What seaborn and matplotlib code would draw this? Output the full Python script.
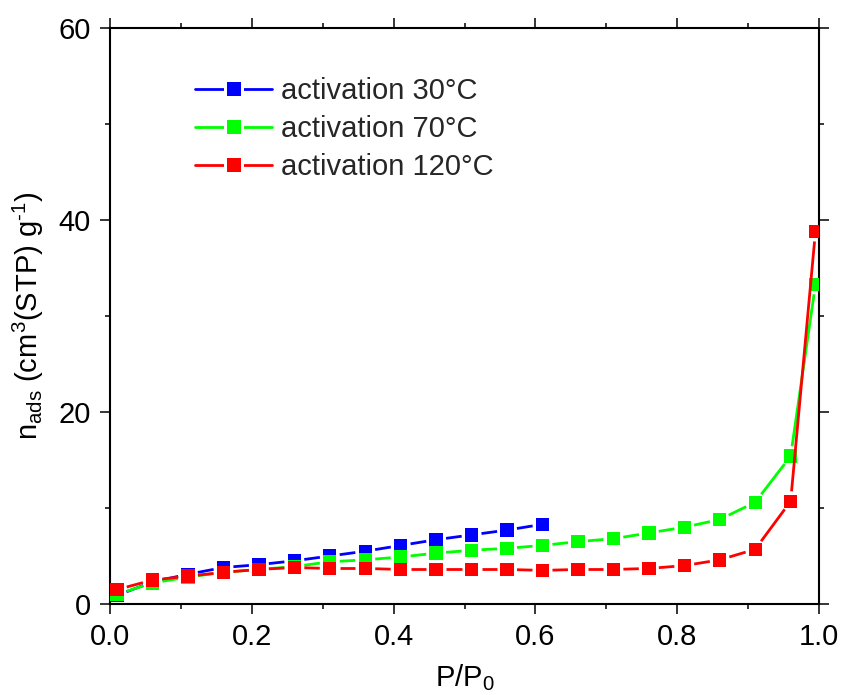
import numpy as np
import pandas as pd
import matplotlib
matplotlib.use("Agg")
import matplotlib.pyplot as plt
from matplotlib.lines import Line2D
from matplotlib.legend_handler import HandlerTuple
import seaborn as sns

# ---- data ----
x_30 = [0.01, 0.06, 0.11, 0.16, 0.21, 0.26, 0.31, 0.36, 0.41, 0.46, 0.51, 0.56, 0.61]
y_30 = [0.9, 2.3, 3.1, 3.8, 4.1, 4.5, 5.0, 5.5, 6.1, 6.7, 7.2, 7.7, 8.3]

x_70 = [0.01, 0.06, 0.11, 0.16, 0.21, 0.26, 0.31, 0.36, 0.41, 0.46, 0.51, 0.56, 0.61,
        0.66, 0.71, 0.76, 0.81, 0.86, 0.91, 0.96, 0.995]
y_70 = [1.0, 2.2, 2.8, 3.3, 3.6, 3.9, 4.4, 4.6, 4.9, 5.3, 5.6, 5.8, 6.1,
        6.5, 6.8, 7.4, 8.0, 8.8, 10.6, 15.4, 33.3]

x_120 = [0.01, 0.06, 0.11, 0.16, 0.21, 0.26, 0.31, 0.36, 0.41, 0.46, 0.51, 0.56, 0.61,
         0.66, 0.71, 0.76, 0.81, 0.86, 0.91, 0.96, 0.995]
y_120 = [1.5, 2.5, 2.9, 3.3, 3.6, 3.8, 3.7, 3.7, 3.6, 3.6, 3.6, 3.6, 3.5,
         3.6, 3.6, 3.7, 4.0, 4.6, 5.7, 10.7, 38.8]

labels = ["activation 30°C", "activation 70°C", "activation 120°C"]
colors = ["#0000FF", "#00FF00", "#FF0000"]

x_ticks = [0.0, 0.2, 0.4, 0.6, 0.8, 1.0]
y_ticks = [0, 20, 40, 60]

series = [(x_30, y_30), (x_70, y_70), (x_120, y_120)]
frames = []
for lab, (xs, ys) in zip(labels, series):
    frames.append(pd.DataFrame({"P/P0": xs, "n_ads": ys, "sample": lab}))
df = pd.concat(frames, ignore_index=True)

# ---- style ----
sns.set_theme(style="ticks")
plt.rcParams['font.family'] = ['Liberation Sans', 'DejaVu Sans']
plt.rcParams['mathtext.default'] = 'regular'
plt.rcParams['mathtext.fontset'] = 'custom'
plt.rcParams['mathtext.rm'] = 'Liberation Sans'
plt.rcParams['mathtext.it'] = 'Liberation Sans'

W, H = 844, 695
fig = plt.figure(figsize=(W / 100, H / 100), dpi=100)
L, R, T, B = 110, 819, 28, 604
ax = fig.add_axes([L / W, 1 - B / H, (R - L) / W, (B - T) / H])

ax.set_xlim(0, 1.0)
ax.set_ylim(0, 60)

fs = 21
ms = 9.6
lw = 2.0
gap = 10  # px gap around symbols

for i, (lab, col) in enumerate(zip(labels, colors)):
    sub = df[df["sample"] == lab]
    # gapped connecting line (Origin style)
    pts = ax.transData.transform(np.column_stack([sub["P/P0"].values, sub["n_ads"].values]))
    inv = ax.transData.inverted()
    for p0, p1 in zip(pts[:-1], pts[1:]):
        d = p1 - p0
        Ld = np.hypot(*d)
        if Ld <= 2 * gap:
            continue
        u = d / Ld
        a = inv.transform(p0 + u * gap)
        b = inv.transform(p1 - u * gap)
        ax.plot([a[0], b[0]], [a[1], b[1]], color=col, lw=lw,
                solid_capstyle='butt', zorder=2 + 2 * i)
    sns.scatterplot(data=sub, x="P/P0", y="n_ads", ax=ax, color=col, marker='s',
                    s=ms ** 2, edgecolor='none', linewidth=0, zorder=3 + 2 * i,
                    legend=False)

ax.set_xticks(x_ticks)
ax.set_yticks(y_ticks)
ax.set_xticks(np.arange(0.1, 1.0, 0.2), minor=True)
ax.set_yticks([10, 30, 50], minor=True)
ax.set_xticklabels([f"{v:.1f}" for v in x_ticks])
ax.set_yticklabels([str(v) for v in y_ticks])

ax.tick_params(which='both', direction='out', top=True, right=True,
               labeltop=False, labelright=False, width=1.1, color='black',
               labelsize=fs, labelcolor='black')
ax.tick_params(which='major', length=7, pad=7)
ax.tick_params(which='minor', length=3.6)
for sp in ax.spines.values():
    sp.set_visible(True)
    sp.set_linewidth(1.5)
    sp.set_color('black')

ax.set_xlabel("P/P$_0$", fontsize=fs, color='black', labelpad=8)
ax.set_ylabel("n$_{ads}$ (cm$^3$(STP) g$^{\\text{-1}}$)", fontsize=fs, color='black', labelpad=9)

# legend with gap around symbols
handles = []
for col in colors:
    ln = Line2D([], [], color=col, lw=lw)
    wm = Line2D([], [], color='white', marker='s', markersize=ms + 5, linestyle='none',
                markeredgewidth=0)
    cm = Line2D([], [], color=col, marker='s', markersize=ms, linestyle='none',
                markeredgewidth=0)
    handles.append((ln, wm, cm))
ax.legend(handles, labels, handler_map={tuple: HandlerTuple(ndivide=1)},
          loc='upper left', bbox_to_anchor=(0.12, 0.915), frameon=False,
          fontsize=fs, handlelength=2.65, handletextpad=0.3, labelspacing=0.34,
          borderpad=0, borderaxespad=0)

fig.savefig("out.png", dpi=100)
